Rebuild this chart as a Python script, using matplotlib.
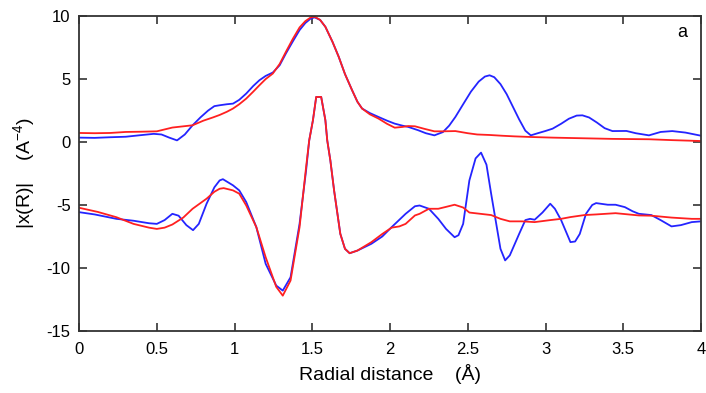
import matplotlib
matplotlib.use('Agg')
import matplotlib.pyplot as plt

plt.rcParams['font.family'] = ['Liberation Sans', 'DejaVu Sans']
plt.rcParams['mathtext.default'] = 'regular'
plt.rcParams['axes.unicode_minus'] = False

# |chi(R)| magnitude, experiment (blue) and fit (red)
mag_exp_r = [0.00, 0.10, 0.20, 0.30, 0.40, 0.48, 0.53, 0.58, 0.63, 0.68, 0.73, 0.78,
             0.83, 0.87, 0.904, 0.95, 0.99, 1.03, 1.075, 1.12, 1.16, 1.20, 1.246, 1.29,
             1.33, 1.375, 1.418, 1.455, 1.49, 1.515, 1.55, 1.584, 1.63, 1.67, 1.71,
             1.756, 1.79, 1.82, 1.87, 1.926, 1.98, 2.03, 2.08, 2.117, 2.18, 2.23,
             2.285, 2.34, 2.38, 2.42, 2.47, 2.52, 2.57, 2.61, 2.64, 2.67, 2.71, 2.75,
             2.79, 2.83, 2.87, 2.905, 2.95, 3.00, 3.045, 3.10, 3.15, 3.20, 3.237,
             3.28, 3.33, 3.38, 3.43, 3.52, 3.58, 3.665, 3.74, 3.815, 3.90, 4.00]
mag_exp = [0.35, 0.33, 0.38, 0.42, 0.55, 0.65, 0.60, 0.35, 0.13, 0.60, 1.33, 1.95,
           2.50, 2.85, 2.92, 3.00, 3.05, 3.35, 3.85, 4.45, 4.91, 5.25, 5.52, 6.10,
           7.03, 8.00, 8.89, 9.45, 9.81, 9.90, 9.70, 9.15, 7.95, 6.76, 5.40,
           4.11, 3.20, 2.66, 2.30, 1.99, 1.70, 1.46, 1.30, 1.20, 0.94, 0.70,
           0.53, 0.79, 1.30, 1.99, 3.00, 4.00, 4.80, 5.20, 5.30, 5.15, 4.60, 3.80,
           2.80, 1.80, 0.90, 0.53, 0.70, 0.88, 1.06, 1.45, 1.85, 2.10, 2.12,
           1.95, 1.55, 1.10, 0.87, 0.88, 0.70, 0.53, 0.80, 0.87, 0.75, 0.50]

mag_fit_r = [0.00, 0.10, 0.20, 0.30, 0.40, 0.50, 0.60, 0.73, 0.80, 0.86, 0.904, 0.95,
             0.99, 1.03, 1.075, 1.12, 1.16, 1.20, 1.246, 1.29, 1.33, 1.375, 1.418,
             1.455, 1.49, 1.515, 1.55, 1.584, 1.63, 1.67, 1.71, 1.756, 1.79, 1.82,
             1.87, 1.926, 1.98, 2.03, 2.08, 2.117, 2.16, 2.22, 2.285, 2.34, 2.42,
             2.50, 2.56, 2.64, 2.72, 2.80, 2.905, 3.045, 3.237, 3.43, 3.665, 3.815, 4.00]
mag_fit = [0.72, 0.70, 0.72, 0.80, 0.82, 0.85, 1.15, 1.33, 1.70, 1.95, 2.15, 2.40,
           2.66, 3.00, 3.45, 4.00, 4.51, 5.00, 5.44, 6.20, 7.16, 8.20, 9.10,
           9.60, 9.90, 9.95, 9.70, 9.15, 7.95, 6.76, 5.40, 4.11, 3.20, 2.66,
           2.20, 1.86, 1.45, 1.14, 1.20, 1.27, 1.25, 1.05, 0.85, 0.85, 0.87,
           0.70, 0.60, 0.56, 0.50, 0.45, 0.40, 0.35, 0.30, 0.25, 0.22, 0.15, 0.08]

# imaginary part, shifted down
im_exp_r = [0.00, 0.10, 0.24, 0.35, 0.45, 0.50, 0.55, 0.60, 0.64, 0.69, 0.733, 0.77,
            0.82, 0.87, 0.904, 0.925, 0.99, 1.03, 1.075, 1.14, 1.20, 1.268, 1.31,
            1.36, 1.418, 1.46, 1.48, 1.504, 1.525, 1.557, 1.584, 1.596, 1.616, 1.64,
            1.68, 1.71, 1.74, 1.79, 1.88, 1.95, 2.01, 2.10, 2.16, 2.19, 2.25, 2.31,
            2.36, 2.415, 2.44, 2.47, 2.51, 2.55, 2.585, 2.62, 2.65, 2.71, 2.74, 2.77,
            2.83, 2.87, 2.90, 2.93, 2.98, 3.03, 3.06, 3.10, 3.16, 3.19, 3.22, 3.26,
            3.30, 3.325, 3.40, 3.45, 3.51, 3.56, 3.60, 3.68, 3.74, 3.81, 3.87, 3.94, 4.00]
im_exp = [-5.57, -5.75, -6.10, -6.25, -6.45, -6.50, -6.20, -5.70, -5.85, -6.60, -7.00, -6.50,
          -4.90, -3.60, -3.05, -2.95, -3.44, -3.84, -4.77, -6.76, -9.67, -11.40, -11.80,
          -10.74, -6.49, -2.25, 0.13, 1.73, 3.58, 3.58, 1.73, 0.13, -1.46, -3.84,
          -7.29, -8.48, -8.83, -8.62, -8.08, -7.50, -6.76, -5.70, -5.10, -5.04, -5.30, -6.10,
          -6.90, -7.56, -7.40, -6.50, -3.05, -1.30, -0.84, -1.80, -4.10, -8.48, -9.40, -9.00,
          -7.30, -6.20, -6.10, -6.17, -5.60, -4.90, -5.30, -6.20, -7.95, -7.90, -7.30, -5.70,
          -5.00, -4.85, -4.98, -4.98, -5.17, -5.50, -5.70, -5.80, -6.20, -6.70, -6.60, -6.36, -6.30]

im_fit_r = [0.00, 0.12, 0.24, 0.35, 0.45, 0.50, 0.55, 0.60, 0.67, 0.73, 0.82, 0.87,
            0.904, 0.93, 0.99, 1.03, 1.075, 1.14, 1.20, 1.268, 1.31, 1.36, 1.418,
            1.46, 1.48, 1.504, 1.525, 1.557, 1.584, 1.596, 1.616, 1.64, 1.68, 1.71,
            1.74, 1.79, 1.88, 1.95, 2.01, 2.06, 2.10, 2.16, 2.19, 2.25, 2.31, 2.36,
            2.415, 2.47, 2.51, 2.58, 2.65, 2.71, 2.77, 2.85, 2.93, 3.03, 3.10, 3.16,
            3.25, 3.325, 3.45, 3.60, 3.68, 3.81, 3.94, 4.00]
im_fit = [-5.22, -5.55, -5.97, -6.50, -6.80, -6.90, -6.80, -6.55, -6.00, -5.30, -4.50, -3.95,
          -3.71, -3.66, -3.84, -4.10, -5.04, -6.76, -9.15, -11.50, -12.20, -11.00, -6.76,
          -1.99, 0.13, 1.73, 3.58, 3.58, 1.73, 0.13, -1.46, -3.84, -7.29, -8.48,
          -8.83, -8.62, -7.95, -7.30, -6.80, -6.70, -6.50, -5.83, -5.70, -5.30, -5.30, -5.15,
          -4.98, -5.20, -5.60, -5.70, -5.80, -6.10, -6.30, -6.30, -6.36, -6.20, -6.10, -5.96,
          -5.80, -5.75, -5.65, -5.83, -5.85, -6.00, -6.10, -6.10]

x_ticks = [0, 0.5, 1, 1.5, 2, 2.5, 3, 3.5, 4]
x_labels = ['0', '0.5', '1', '1.5', '2', '2.5', '3', '3.5', '4']
y_ticks = [-15, -10, -5, 0, 5, 10]

fig = plt.figure(figsize=(7.06, 3.93), dpi=100)
ax = fig.add_axes([0.112, 0.158, 0.881, 0.801])

blue = '#2424ff'
red = '#ff2020'
ax.plot(mag_exp_r, mag_exp, color=blue, lw=1.3)
ax.plot(im_exp_r, im_exp, color=blue, lw=1.3)
ax.plot(mag_fit_r, mag_fit, color=red, lw=1.3)
ax.plot(im_fit_r, im_fit, color=red, lw=1.3)

ax.set_xlim(0, 4)
ax.set_ylim(-15, 10)
ax.set_xticks(x_ticks)
ax.set_xticklabels(x_labels)
ax.set_yticks(y_ticks)
ax.tick_params(direction='in', top=True, right=True, length=6, width=1.2,
               labelsize=12, color='#333333')
ax.tick_params(axis='x', pad=8)
ax.tick_params(axis='y', pad=6)
for s in ax.spines.values():
    s.set_linewidth(1.3)
    s.set_color('#333333')

ax.set_xlabel('Radial distance    (Å)', fontsize=14, labelpad=5)
ax.set_ylabel('|x(R)|    (A$^{-4}$)', fontsize=14)
ax.yaxis.set_label_coords(-0.068, 0.5)
ax.text(3.877, 8.7, 'a', fontsize=13, ha='center', va='center')

fig.savefig('out.png', dpi=100)
